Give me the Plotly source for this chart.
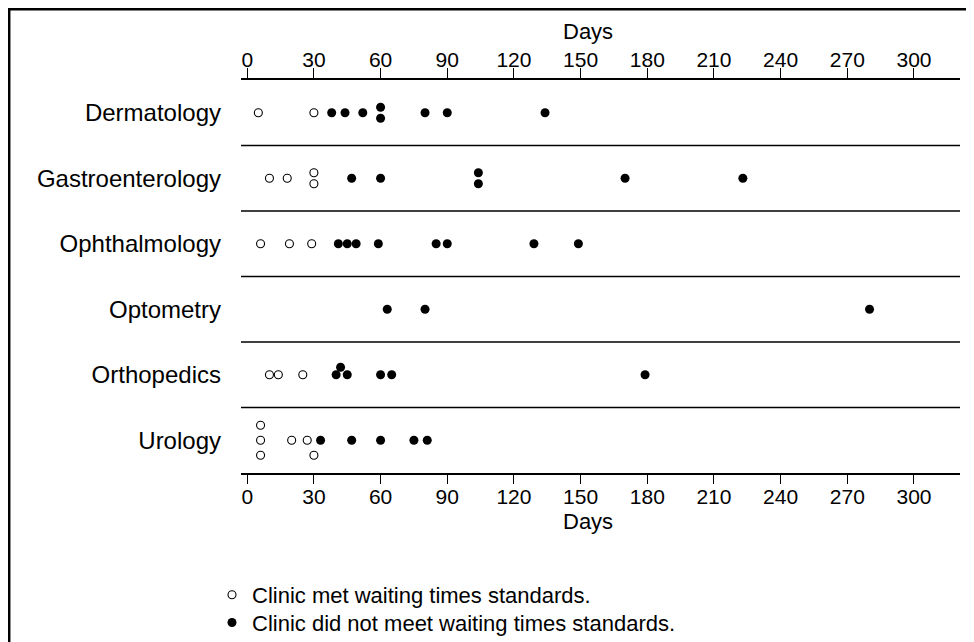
import plotly.graph_objects as go
from collections import Counter

# ---------------- data (days waited, per clinic) ----------------
categories = ["Dermatology", "Gastroenterology", "Ophthalmology",
              "Optometry", "Orthopedics", "Urology"]

derm_met = [5, 30]
derm_not = [38, 44, 52, 60, 60, 80, 90, 134]
gastro_met = [10, 18, 30, 30]
gastro_not = [47, 60, 104, 104, 170, 223]
ophth_met = [6, 19, 29]
ophth_not = [41, 45, 49, 59, 85, 90, 129, 149]
optom_met = []
optom_not = [63, 80, 280]
ortho_met = [10, 14, 25]
ortho_not = [40, 42, 45, 60, 65, 179]
uro_met = [6, 6, 6, 20, 27, 30]
uro_not = [33, 47, 60, 75, 81]

x_ticks = [0, 30, 60, 90, 120, 150, 180, 210, 240, 270, 300]
axis_title = "Days"
met_label = "Clinic met waiting times standards."
not_label = "Clinic did not meet waiting times standards."

met_by_cat = [derm_met, gastro_met, ophth_met, optom_met, ortho_met, uro_met]
not_by_cat = [derm_not, gastro_not, ophth_not, optom_not, ortho_not, uro_not]

# ---------------- layout geometry ----------------
OFF = 8                      # page body margin
W, H = 974 - OFF, 642 - OFF
L, R, T, B = 241 - OFF, 14, 80 - OFF, 169
plot_w = W - L - R
plot_h = H - T - B
X_RANGE = [-2.8, 320.7]
px_per_day = plot_w / (X_RANGE[1] - X_RANGE[0])
row_px = plot_h / len(categories)
FONT = "Liberation Sans, Arial, Helvetica, sans-serif"


def px_x(px):   # window pixel -> paper x
    return (px - OFF - L) / plot_w


def px_y(py):   # window pixel -> paper y
    return (T + plot_h - (py - OFF)) / plot_h


def cx(px):     # window pixel -> container x
    return (px - OFF) / W


def cy(py):     # window pixel -> container y
    return 1 - (py - OFF) / H


def stack(points):
    """Dot-plot stacking: identical values are spread vertically,
    near-collisions are nudged off the row line (offsets in pixels)."""
    pts = sorted(points, key=lambda p: p[0])
    counts = Counter(v for v, _ in pts)
    seen = {}
    placed = []
    for v, kind in pts:
        n = counts[v]
        if n > 1:
            step = 7 + 4 * (n - 1)
            i = seen.get(v, 0)
            seen[v] = i + 1
            off = (i - (n - 1) / 2) * step
        else:
            off = 0.0
            if any(abs(pv - v) * px_per_day < 7.8 and po == 0 for pv, po, _ in placed):
                off = -7.5 if kind == "not" else 15.0
        placed.append((v, off, kind))
    return placed


mx, my, nx, ny = [], [], [], []
for ci, cat in enumerate(categories):
    pts = [(v, "met") for v in met_by_cat[ci]] + [(v, "not") for v in not_by_cat[ci]]
    for v, off, kind in stack(pts):
        yv = ci + off / row_px
        if kind == "met":
            mx.append(v); my.append(yv)
        else:
            nx.append(v); ny.append(yv)

fig = go.Figure()
fig.add_trace(go.Scatter(
    x=mx, y=my, mode="markers", name=met_label, legend="legend",
    marker=dict(symbol="circle", size=8, color="white",
                line=dict(color="black", width=1.1)),
    hoverinfo="x"))
fig.add_trace(go.Scatter(
    x=nx, y=ny, mode="markers", name=not_label, legend="legend2",
    marker=dict(symbol="circle", size=9, color="black",
                line=dict(color="black", width=0)),
    hoverinfo="x"))
# invisible trace to activate the top axis
fig.add_trace(go.Scatter(x=[None], y=[None], xaxis="x2", yaxis="y", showlegend=False,
                         hoverinfo="skip"))

shapes = []
for i in range(len(categories) - 1):
    shapes.append(dict(type="line", xref="paper", x0=0, x1=1, yref="y",
                       y0=i + 0.5, y1=i + 0.5, line=dict(color="black", width=1.5)))
# outer frame
shapes.append(dict(type="rect", xref="paper", yref="paper",
                   x0=px_x(9.2), x1=px_x(970), y0=px_y(665), y1=px_y(9.2),
                   line=dict(color="black", width=2.5), fillcolor="rgba(0,0,0,0)"))

title_font = dict(size=22, family=FONT, color="black")
annotations = [
    dict(text=axis_title, xref="paper", yref="paper", x=px_x(588), y=px_y(31.5),
         xanchor="center", yanchor="middle", showarrow=False, font=title_font),
    dict(text=axis_title, xref="paper", yref="paper", x=px_x(588), y=px_y(521),
         xanchor="center", yanchor="middle", showarrow=False, font=title_font),
]

axis_common = dict(range=X_RANGE, tickvals=x_ticks, ticks="outside", tickwidth=1,
                   tickcolor="black", showline=True, linecolor="black", linewidth=1.5,
                   showgrid=False, zeroline=False, automargin=False,
                   tickfont=dict(size=21, color="black", family=FONT))
legend_common = dict(xanchor="left", yanchor="middle", bgcolor="rgba(0,0,0,0)",
                     borderwidth=0, itemwidth=30, xref="container", yref="container",
                     font=dict(size=22, family=FONT, color="black"))

fig.update_layout(
    width=W, height=H,
    margin=dict(l=L, r=R, t=T, b=B, pad=0, autoexpand=False),
    paper_bgcolor="white", plot_bgcolor="white",
    font=dict(family=FONT, color="black", size=22),
    xaxis=dict(**axis_common, ticklen=9, ticklabelstandoff=-5),
    xaxis2=dict(**axis_common, ticklen=10, ticklabelstandoff=-7,
                overlaying="x", side="top", anchor="y"),
    yaxis=dict(range=[len(categories) - 0.5, -0.5], tickvals=list(range(len(categories))),
               ticktext=categories, ticks="", showgrid=False, zeroline=False, showline=False,
               automargin=False, ticklabelstandoff=19,
               tickfont=dict(size=24, color="black", family=FONT)),
    shapes=shapes,
    annotations=annotations,
    legend=dict(**legend_common, x=cx(212), y=cy(595)),
    legend2=dict(**legend_common, x=cx(212), y=cy(622.7)),
    showlegend=True,
)

fig.write_html("out.html")
